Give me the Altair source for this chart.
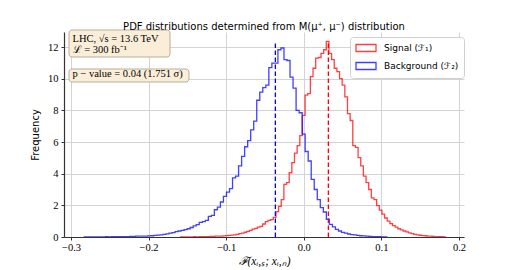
import altair as alt
import pandas as pd

# ---- data ----
signal_label = "Signal (ℱ₁)"
background_label = "Background (ℱ₂)"

# Background (F2) histogram: 100 bins, density values
background_start = -0.2829
background_width = 0.0039
background_vals = [
    0.01, 0.01, 0.00, 0.01, 0.01, 0.01, 0.01, 0.02, 0.01, 0.02,
    0.02, 0.02, 0.03, 0.03, 0.03, 0.04, 0.04, 0.05, 0.05, 0.06,
    0.06, 0.07, 0.08, 0.10, 0.12, 0.14, 0.17, 0.20, 0.24, 0.28,
    0.34, 0.38, 0.42, 0.46, 0.52, 0.60, 0.70, 0.78, 0.92, 0.97,
    1.05, 1.30, 1.36, 1.72, 1.89, 2.21, 2.57, 2.83, 3.06, 3.74,
    3.85, 4.49, 5.09, 5.70, 6.09, 6.77, 7.32, 8.64, 9.15, 9.43,
    9.60, 10.70, 10.98, 10.98, 11.83, 11.94, 11.20, 11.15, 10.10, 9.40,
    8.00, 7.85, 6.50, 5.40, 4.80, 3.64, 3.00, 2.36, 1.85, 1.58,
    1.12, 0.80, 0.64, 0.48, 0.38, 0.29, 0.24, 0.19, 0.15, 0.13,
    0.10, 0.08, 0.07, 0.05, 0.04, 0.03, 0.02, 0.02, 0.01, 0.01,
]

# Signal (F1) histogram: 100 bins, density values
signal_start = -0.1588
signal_width = 0.003415
signal_vals = [
    0.01, 0.00, 0.01, 0.01, 0.01, 0.02, 0.01, 0.02, 0.02, 0.03,
    0.03, 0.04, 0.04, 0.05, 0.05, 0.06, 0.07, 0.09, 0.10, 0.12,
    0.14, 0.17, 0.21, 0.25, 0.30, 0.36, 0.42, 0.50, 0.55, 0.62,
    0.67, 0.82, 0.97, 1.05, 1.10, 1.24, 1.60, 1.94, 2.36, 3.32,
    3.43, 4.06, 4.70, 5.30, 5.77, 6.40, 7.68, 8.96, 9.06, 10.13,
    10.66, 11.30, 11.34, 11.60, 11.83, 12.36, 11.60, 11.20, 10.66, 10.45,
    10.00, 9.60, 8.85, 7.80, 7.36, 5.77, 5.66, 5.02, 4.49, 3.85,
    3.43, 3.00, 2.47, 2.36, 1.98, 1.70, 1.45, 1.20, 1.00, 0.85,
    0.72, 0.62, 0.52, 0.45, 0.38, 0.32, 0.26, 0.21, 0.17, 0.14,
    0.11, 0.09, 0.08, 0.06, 0.05, 0.04, 0.03, 0.02, 0.02, 0.01,
]

signal_mean = 0.0317
background_mean = -0.0366
mean_line_top = 12.3

x_ticks = [-0.3, -0.2, -0.1, 0.0, 0.1, 0.2]
y_ticks = [0, 2, 4, 6, 8, 10, 12]
x_domain = [-0.309, 0.2065]
y_domain = [0, 12.95]

title_text = "PDF distributions determined from M(μ⁺, μ⁻) distribution"
x_title = "ℱ(xᵢ,ₛ; xᵢ,ₙ)"
y_title = "Frequency"
box1_line1 = "LHC,  √s = 13.6 TeV"
box1_line2 = "ℒ = 300 fb⁻¹"
box2_line = "p − value = 0.04 (1.751 σ)"


# ---- build step outlines ----
def step_rows(label, start, width, vals):
    rows = [{"series": label, "i": 0, "x": start, "y": 0.0}]
    for k, v in enumerate(vals):
        rows.append({"series": label, "i": k + 1, "x": start + width * k, "y": v})
    rows.append({"series": label, "i": len(vals) + 1,
                 "x": start + width * len(vals), "y": 0.0})
    return rows


hist_df = pd.DataFrame(
    step_rows(signal_label, signal_start, signal_width, signal_vals)
    + step_rows(background_label, background_start, background_width, background_vals)
)

mean_df = pd.DataFrame({
    "x": [background_mean, signal_mean],
    "y": [0, 0],
    "y1": [mean_line_top, mean_line_top],
    "col": ["#0000ff", "#ff0000"],
})

x_scale = alt.Scale(domain=x_domain, nice=False, zero=False)
y_scale = alt.Scale(domain=y_domain, nice=False, zero=False)

serif = "Liberation Serif"
sans = "DejaVu Sans"

x_axis = alt.Axis(values=x_ticks, format=".1f", title=x_title,
                  titleFont=serif, titleFontSize=11.5, titleFontWeight="normal",
                  titleFontStyle="italic", titlePadding=3,
                  labelFont=serif, labelFontSize=10.5, labelPadding=2,
                  labelOverlap=False, labelFlush=False,
                  tickSize=3, labelColor="black", titleColor="black")
y_axis = alt.Axis(values=y_ticks, format="d", title=y_title,
                  titleFont=sans, titleFontSize=10, titleFontWeight="normal",
                  titlePadding=7, labelOverlap=False, labelFlush=False,
                  labelFont=serif, labelFontSize=10.5, labelPadding=3,
                  tickSize=3, labelColor="black", titleColor="black")

legend_path = "M-1,-0.7H3V0.7H-1Z"

hist = alt.Chart(hist_df).mark_line(
    interpolate="step-after", strokeWidth=1.3, opacity=0.75, clip=True
).encode(
    x=alt.X("x:Q", scale=x_scale, axis=x_axis),
    y=alt.Y("y:Q", scale=y_scale, axis=y_axis),
    color=alt.Color("series:N",
                    scale=alt.Scale(domain=[signal_label, background_label],
                                    range=["#ff0000", "#0000ff"]),
                    legend=alt.Legend(orient="none", legendX=286, legendY=5,
                                      title=None, symbolType=legend_path,
                                      symbolSize=100, symbolStrokeWidth=1.3,
                                      symbolOpacity=0.75,
                                      symbolFillColor="transparent",
                                      labelFont=sans, labelFontSize=9,
                                      labelColor="black", labelOffset=17,
                                      rowPadding=4, padding=5,
                                      fillColor="white", strokeColor="#cfcfcf",
                                      cornerRadius=3)),
    order="i:Q",
)

rules = alt.Chart(mean_df).mark_rule(strokeDash=[4.5, 2.5], strokeWidth=1.3).encode(
    x=alt.X("x:Q", scale=x_scale, axis=x_axis),
    y=alt.Y("y:Q", scale=y_scale, axis=y_axis),
    y2="y1:Q",
    color=alt.Color("col:N", scale=None),
)

one = alt.Data(values=[{"a": 1}])
box_fill = "#faeed9"
box_stroke = "#b9ad97"

box1 = alt.Chart(one).mark_rect(
    fill=box_fill, stroke=box_stroke, strokeWidth=1, cornerRadius=3
).encode(x=alt.value(5), x2=alt.value(106), y=alt.value(-2), y2=alt.value(25))

box2 = alt.Chart(one).mark_rect(
    fill=box_fill, stroke=box_stroke, strokeWidth=1, cornerRadius=3
).encode(x=alt.value(5), x2=alt.value(125), y=alt.value(37), y2=alt.value(50))


def label(txt, px, py):
    return alt.Chart(one).mark_text(
        text=txt, font=serif, fontSize=10.5, align="left", baseline="alphabetic",
        color="black"
    ).encode(x=alt.value(px), y=alt.value(py))


chart = alt.layer(
    hist, rules, box1, box2,
    label(box1_line1, 8.5, 10), label(box1_line2, 8.5, 21), label(box2_line, 8.5, 45),
).properties(
    width=400, height=205,
    title=alt.TitleParams(text=title_text, font=sans, fontSize=10,
                          fontWeight="normal", anchor="middle", offset=-2,
                          color="black"),
    padding={"left": 56, "top": 24, "right": 35, "bottom": 30},
    autosize=alt.AutoSizeParams(type="none"),
).configure_view(
    strokeWidth=0
).configure_axis(
    gridColor="#d4d4d4", gridWidth=1, domainColor="#333333", tickColor="#333333",
    domainWidth=1.2
)

chart.save("out.html", embed_options={"renderer": "svg", "actions": False})
